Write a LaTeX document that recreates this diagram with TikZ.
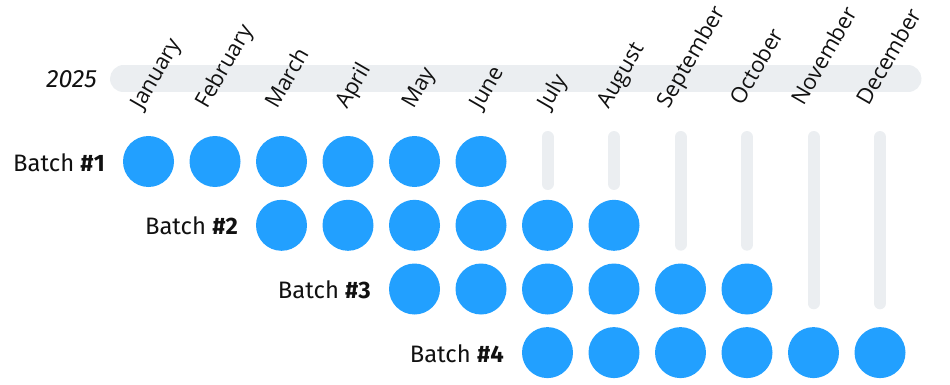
\documentclass[tikz,border=0pt]{standalone}
\usepackage{fontspec}
\setmainfont{Fira Sans}
\newfontfamily\monthfont{Open Sans}
\usetikzlibrary{positioning}
\definecolor{dotblue}{HTML}{22A0FF}
\definecolor{trackgray}{HTML}{EBEEF1}
\definecolor{inkblack}{HTML}{111111}
\tikzset{
    dot/.style = {circle, fill=dotblue, minimum size=51pt, inner sep=0pt},
    monthlabel/.style = {rotate=60, anchor=base west, inner sep=0pt, text=inkblack, font=\monthfont\fontsize{22}{26}\selectfont},
    batchlabel/.style = {anchor=base east, inner sep=0pt, text=inkblack, font=\fontsize{23.8}{28}\selectfont},
    yearlabel/.style = {anchor=base east, inner sep=0pt, text=inkblack, font=\itshape\fontsize{25}{30}\selectfont},
    track/.style = {-, line width=12pt, line cap=round, draw=trackgray},
    yearband/.style = {-, line width=27pt, line cap=round, draw=trackgray}
}

\begin{document}
\begin{tikzpicture}[x=1pt, y=-1pt]
    \useasboundingbox (0,0) rectangle (950,385);

    % year band
    \coordinate (bandl) at (123.5,79);
    \coordinate (bandr) at (908,79);
    \draw[yearband] (bandl) -- (bandr);
    \node[yearlabel] (year) at (97,88) {2025};

    % month labels
    \node[monthlabel] (jan) at (142,111) {January};
    \node[monthlabel] (feb) at (207,110) {February};
    \node[monthlabel] (mar) at (277,110) {March};
    \node[monthlabel] (apr) at (347,110) {April};
    \node[monthlabel] (may) at (413.5,110) {May};
    \node[monthlabel] (jun) at (481,111) {June};
    \node[monthlabel] (jul) at (549,111) {July};
    \node[monthlabel] (aug) at (608.5,110) {August};
    \node[monthlabel] (sep) at (668.5,110) {September};
    \node[monthlabel] (oct) at (742,106.7) {October};
    \node[monthlabel] (nov) at (803.5,106.7) {November};
    \node[monthlabel] (dec) at (868.5,106.7) {December};

    % empty months
    \foreach \m/\e in {7/184, 8/184, 9/244.7, 10/244.7, 11/303.3, 12/303.3} {
        \coordinate (t\m) at ({148.5+66.5*(\m-1)},137);
        \coordinate (e\m) at ({148.5+66.5*(\m-1)},\e);
        \draw[track] (t\m) -- (e\m);
    }

    % batches
    \foreach \b/\y in {1/161.5, 2/225.3, 3/289, 4/352.6} {
        \pgfmathtruncatemacro{\first}{2*\b-1}
        \pgfmathtruncatemacro{\last}{2*\b+4}
        \node[batchlabel] (batch\b) at ({148.5+66.5*(\first-1)-43.5},\y+9.5) {Batch \textbf{\#\b}};
        \foreach \m in {\first,...,\last} {
            \node[dot] (b\b m\m) at ({148.5+66.5*(\m-1)},\y) {};
        }
    }

\end{tikzpicture}
\end{document}
